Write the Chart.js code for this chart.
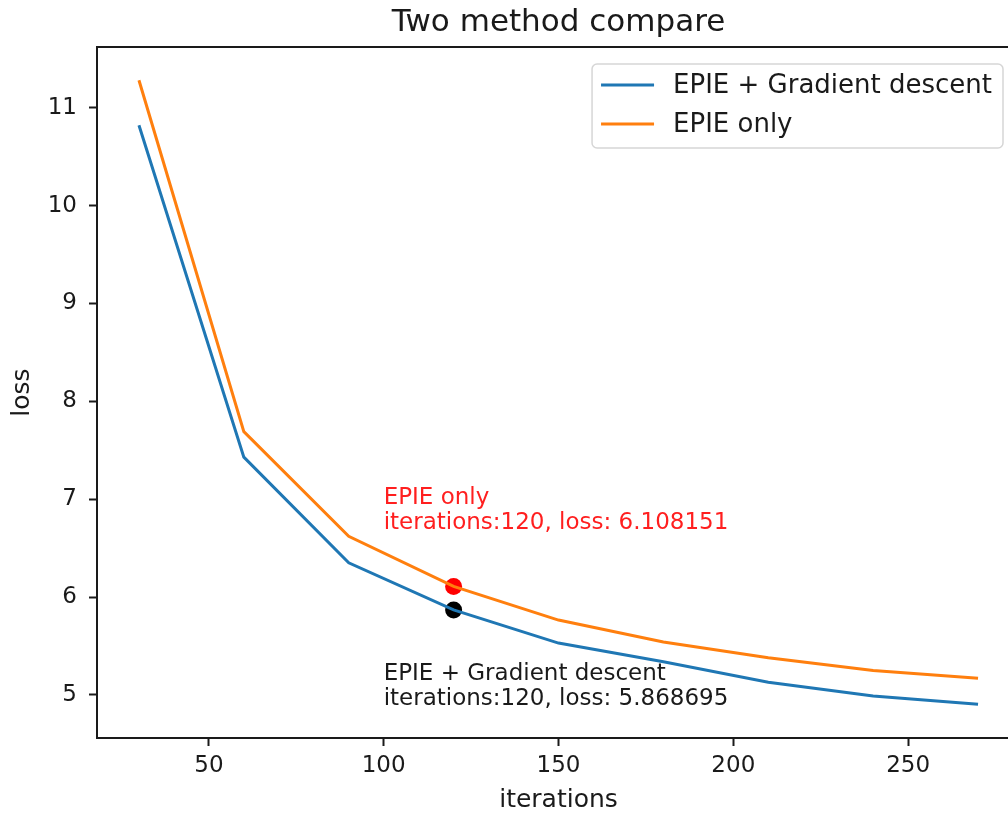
<!DOCTYPE html>
<html lang="en">
<head>
    <meta charset="UTF-8">
    <title>Two method compare</title>
    <script src="https://cdn.jsdelivr.net/npm/chart.js"></script>
    <style>
        body {
            margin: 0;
            background: #fff;
            overflow: hidden;
        }
        .wrap {
            width: 1030px;
            height: 816px;
        }
    </style>
</head>
<body>
    <div class="wrap">
        <canvas id="lossChart" width="1030" height="816"></canvas>
    </div>

    <script>
        // values
        const iterations = [30, 60, 90, 120, 150, 180, 210, 240, 270];
        const lossGradient = [10.82, 7.43, 6.35, 5.868695, 5.53, 5.34, 5.13, 4.99, 4.905];
        const lossEpieOnly = [11.28, 7.69, 6.62, 6.108151, 5.765, 5.54, 5.38, 5.25, 5.17];
        const seriesNames = ['EPIE + Gradient descent', 'EPIE only'];

        const xTicks = [50, 100, 150, 200, 250];
        const yTicks = [5, 6, 7, 8, 9, 10, 11];

        // highlighted points and their notes
        const markX = [120, 120];
        const markY = [6.108151, 5.868695];
        const markColors = ['#ff0000', '#000000'];
        const noteX = [100, 100];
        const noteY = [6.7, 4.9];
        const noteLines = [
            ['EPIE only', 'iterations:120, loss: 6.108151'],
            ['EPIE + Gradient descent', 'iterations:120, loss: 5.868695']
        ];
        const noteColors = ['#ff1f1f', '#1a1a1a'];

        const FONT = '"DejaVu Sans", sans-serif';
        const toPoints = (xs, ys) => xs.map((x, i) => ({ x: x, y: ys[i] }));

        const extras = {
            id: 'extras',
            afterDraw(chart) {
                const ctx = chart.ctx;
                const a = chart.chartArea;
                const xs = chart.scales.x, ys = chart.scales.y;
                ctx.save();

                // top and right spines
                ctx.strokeStyle = '#1a1a1a';
                ctx.lineWidth = 2;
                ctx.strokeRect(a.left, a.top, a.right - a.left, a.bottom - a.top);

                // title
                ctx.fillStyle = '#1a1a1a';
                ctx.font = '31px ' + FONT;
                ctx.textAlign = 'center';
                ctx.textBaseline = 'middle';
                ctx.fillText('Two method compare', (a.left + a.right) / 2, 23);

                // notes next to the points
                ctx.font = '23px ' + FONT;
                ctx.textAlign = 'left';
                ctx.textBaseline = 'alphabetic';
                noteLines.forEach((lines, i) => {
                    const px = xs.getPixelForValue(noteX[i]);
                    const py = ys.getPixelForValue(noteY[i]);
                    ctx.fillStyle = noteColors[i];
                    lines.forEach((t, k) => {
                        ctx.fillText(t, px, py - (lines.length - 1 - k) * 25);
                    });
                });

                // legend
                const lines = chart.data.datasets.filter(d => seriesNames.includes(d.label));
                ctx.font = '26px ' + FONT;
                const tw = Math.max(...lines.map(d => ctx.measureText(d.label).width));
                const bw = 81 + tw + 11, bh = 84;
                const bx = a.right - 17 - bw, by = a.top + 17;
                ctx.beginPath();
                ctx.roundRect(bx, by, bw, bh, 5);
                ctx.fillStyle = 'rgba(255,255,255,0.8)';
                ctx.fill();
                ctx.strokeStyle = '#d6d6d6';
                ctx.lineWidth = 1.5;
                ctx.stroke();
                lines.forEach((d, i) => {
                    const ly = by + 21 + i * 39;
                    ctx.strokeStyle = d.borderColor;
                    ctx.lineWidth = 3;
                    ctx.beginPath();
                    ctx.moveTo(bx + 9, ly);
                    ctx.lineTo(bx + 62, ly);
                    ctx.stroke();
                    ctx.fillStyle = '#1a1a1a';
                    ctx.textBaseline = 'middle';
                    ctx.fillText(d.label, bx + 81, ly + 1);
                });
                ctx.restore();
            }
        };

        const ctx = document.getElementById('lossChart').getContext('2d');
        new Chart(ctx, {
            type: 'line',
            data: {
                datasets: [
                    {
                        label: seriesNames[0],
                        data: toPoints(iterations, lossGradient),
                        borderColor: '#1f77b4',
                        borderWidth: 3,
                        pointRadius: 0,
                        tension: 0
                    },
                    {
                        label: seriesNames[1],
                        data: toPoints(iterations, lossEpieOnly),
                        borderColor: '#ff7f0e',
                        borderWidth: 3,
                        pointRadius: 0,
                        tension: 0
                    },
                    {
                        type: 'scatter',
                        label: 'marks',
                        data: toPoints(markX, markY),
                        pointRadius: 8.5,
                        pointBackgroundColor: markColors,
                        pointBorderColor: markColors,
                        pointBorderWidth: 0
                    }
                ]
            },
            options: {
                responsive: false,
                animation: false,
                layout: { padding: { top: 47, right: 10, left: 0, bottom: 0 } },
                plugins: {
                    legend: { display: false },
                    title: { display: false },
                    tooltip: { enabled: false }
                },
                scales: {
                    x: {
                        type: 'linear',
                        min: 18,
                        max: 282,
                        afterBuildTicks: s => { s.ticks = xTicks.map(v => ({ value: v })); },
                        afterFit: s => { s.height = 78; },
                        grid: { drawOnChartArea: false, tickLength: 8, tickWidth: 2, tickColor: '#1a1a1a' },
                        border: { color: '#1a1a1a', width: 2 },
                        ticks: { color: '#1a1a1a', padding: 6, font: { family: FONT, size: 23 } },
                        title: {
                            display: true,
                            text: 'iterations',
                            color: '#1a1a1a',
                            padding: { top: 0, bottom: 1 },
                            font: { family: FONT, size: 25 }
                        }
                    },
                    y: {
                        min: 4.56,
                        max: 11.62,
                        afterBuildTicks: s => { s.ticks = yTicks.map(v => ({ value: v })); },
                        afterFit: s => { s.width = 97; },
                        grid: { drawOnChartArea: false, tickLength: 8, tickWidth: 2, tickColor: '#1a1a1a' },
                        border: { color: '#1a1a1a', width: 2 },
                        ticks: { color: '#1a1a1a', padding: 12, font: { family: FONT, size: 23 } },
                        title: {
                            display: true,
                            text: 'loss',
                            color: '#1a1a1a',
                            padding: { top: 7, bottom: 0 },
                            font: { family: FONT, size: 25 }
                        }
                    }
                }
            },
            plugins: [extras]
        });
    </script>
</body>
</html>
